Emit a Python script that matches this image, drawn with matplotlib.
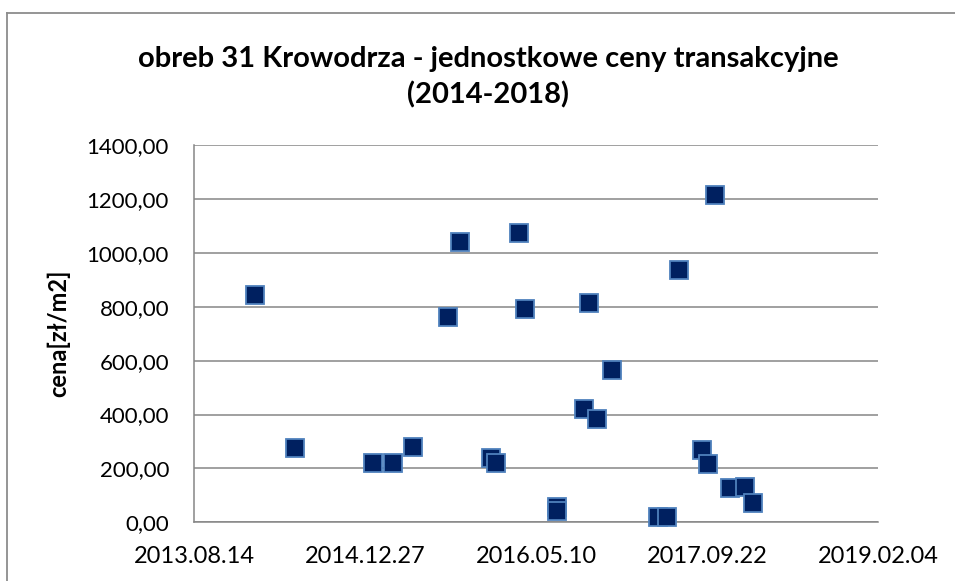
import matplotlib
matplotlib.use("Agg")
import matplotlib.pyplot as plt
import matplotlib.dates as mdates
import numpy as np
from matplotlib.ticker import FuncFormatter, MultipleLocator
from matplotlib.lines import Line2D

# ---- data ----
dates = ["2014-02-08", "2014-06-05", "2015-01-20", "2015-03-20", "2015-05-15",
         "2015-08-28", "2015-10-01", "2015-12-29", "2016-01-14", "2016-03-21",
         "2016-04-08", "2016-07-09", "2016-07-09", "2016-09-27", "2016-10-13",
         "2016-11-03", "2016-12-17", "2017-05-03", "2017-05-27", "2017-07-03",
         "2017-09-07", "2017-09-26", "2017-10-15", "2017-11-28", "2018-01-11",
         "2018-02-04"]
prices = [845, 274, 219, 219, 280,
          760, 1041, 237, 221, 1073,
          790, 58, 42, 420, 812,
          383, 565, 20, 20, 935,
          268, 216, 1213, 126, 130,
          70]
x_start = "2013-08-14"
x_end = "2019-02-04"
title = "obreb 31 Krowodrza - jednostkowe ceny transakcyjne\n(2014-2018)"
ylabel = "cena[zł/m2]"

FONT = ["Lato", "DejaVu Sans"]
plt.rcParams['font.family'] = FONT

fig = plt.figure(figsize=(9.55, 5.81), dpi=100)
W, H = 955, 581
ax = fig.add_axes([194 / W, (H - 522.3) / H, (878 - 194) / W, (522.3 - 145) / H])

xd = [np.datetime64(d) for d in dates]
xnum = mdates.date2num(xd)
ax.plot(xnum, prices, linestyle="none", marker="s", markersize=13.2,
        markerfacecolor="#002060", markeredgecolor="#4f81bd", markeredgewidth=1.3,
        zorder=3, clip_on=False)

x0 = mdates.date2num(np.datetime64(x_start))
x1 = mdates.date2num(np.datetime64(x_end))
ax.set_xlim(x0, x1)
ax.set_ylim(0, 1400)
ax.set_xticks(np.arange(x0, x1 + 1, 500))
ax.xaxis.set_major_formatter(FuncFormatter(lambda v, p: mdates.num2date(v).strftime("%Y.%m.%d")))
ax.yaxis.set_major_locator(MultipleLocator(200))
ax.yaxis.set_major_formatter(FuncFormatter(lambda v, p: f"{v:.2f}".replace(".", ",")))

ax.grid(axis="y", color="#868686", linewidth=1.1)
ax.set_axisbelow(True)
for s in ["top", "right"]:
    ax.spines[s].set_visible(False)
for s in ["left", "bottom"]:
    ax.spines[s].set_color("#868686")
    ax.spines[s].set_linewidth(1.1)
ax.tick_params(length=0, colors="black")
ax.tick_params(axis="y", labelsize=16, pad=18)
ax.tick_params(axis="x", labelsize=17, pad=17)

ax.set_ylabel(ylabel, fontsize=17, fontweight="bold", labelpad=12)

fig.text(488 / W, 1 - 77 / H, title, ha="center", va="center", fontsize=21,
         fontweight="bold", linespacing=1.4)

# chart frame (left and top edges)
fig.add_artist(Line2D([7 / W, 7 / W], [0, 1 - 13 / H], transform=fig.transFigure,
                      color="#8c8c8c", linewidth=1.3))
fig.add_artist(Line2D([7 / W, 1], [1 - 13 / H, 1 - 13 / H], transform=fig.transFigure,
                      color="#8c8c8c", linewidth=1.3))

fig.savefig("out.png", dpi=100)
